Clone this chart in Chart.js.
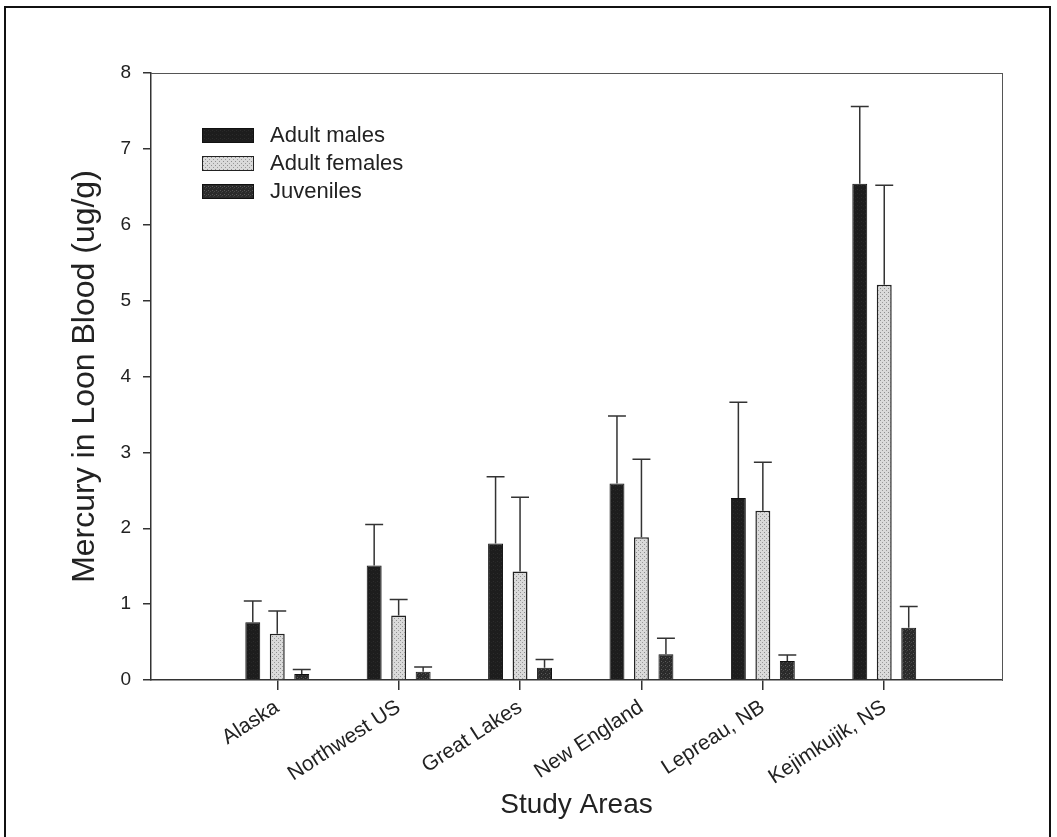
<!DOCTYPE html>
<html>
<head>
<meta charset="utf-8">
<title>Mercury in Loon Blood</title>
<script src="https://cdn.jsdelivr.net/npm/chart.js@4.4.0/dist/chart.umd.min.js"></script>
<style>
  html, body { margin: 0; padding: 0; background: #fff; }
  #wrap { position: relative; width: 1057px; height: 837px; overflow: hidden; }
  #frame { position: absolute; left: 4px; top: 6px; width: 1047px; height: 900px; border: 2px solid #111; box-sizing: border-box; }
  #chart { position: absolute; left: 0; top: 0; }
  #legend { position: absolute; left: 202px; top: 121px; font: 22px 'Liberation Sans', Arial, sans-serif; color: #222; }
  .item { display: flex; align-items: center; height: 28px; }
  .box { width: 52px; height: 15px; box-sizing: border-box; border: 1.5px solid #222; margin-right: 16px; }
</style>
</head>
<body>
<div id="wrap">
  <div id="frame"></div>
  <canvas id="chart" width="1057" height="837"></canvas>
  <div id="legend"></div>
</div>
<script>
const categories = ["Alaska", "Northwest US", "Great Lakes", "New England", "Lepreau, NB", "Kejimkujik, NS"];
const adultMales = [0.76, 1.51, 1.80, 2.59, 2.40, 6.54];
const adultMalesSD = [0.28, 0.54, 0.88, 0.89, 1.26, 1.02];
const adultFemales = [0.61, 0.85, 1.43, 1.88, 2.23, 5.21];
const adultFemalesSD = [0.30, 0.21, 0.98, 1.03, 0.64, 1.31];
const juveniles = [0.08, 0.11, 0.16, 0.34, 0.25, 0.69];
const juvenilesSD = [0.06, 0.06, 0.11, 0.21, 0.08, 0.28];
const yTicks = [0, 1, 2, 3, 4, 5, 6, 7, 8];

const FONT = "'Liberation Sans', Arial, sans-serif";
Chart.defaults.font.family = FONT;
Chart.defaults.color = "#222";

// small tiles for the stippled fills
function tile(base, dots, size) {
  const c = document.createElement("canvas");
  c.width = size; c.height = size;
  const g = c.getContext("2d");
  g.fillStyle = base;
  g.fillRect(0, 0, size, size);
  dots.forEach(d => { g.fillStyle = d[2]; g.fillRect(d[0], d[1], 1, 1); });
  return c;
}
const ctx = document.getElementById("chart").getContext("2d");
const maleTile = tile("#1d1d1d", [[1, 1, "#2c2c2c"], [3, 2, "#262626"]], 4);
const femaleTile = tile("#dadada", [[0, 0, "#8e8e8e"], [2, 2, "#9a9a9a"]], 4);
const juvTile = tile("#2a2a2a", [[1, 1, "#5a5a5a"], [3, 2, "#4a4a4a"], [2, 3, "#3c3c3c"]], 4);

const errors = [adultMalesSD, adultFemalesSD, juvenilesSD];

const errorBars = {
  id: "errorBars",
  afterDatasetsDraw(chart) {
    const c = chart.ctx;
    const y = chart.scales.y;
    chart.data.datasets.forEach((ds, di) => {
      chart.getDatasetMeta(di).data.forEach((bar, i) => {
        const top = y.getPixelForValue(ds.data[i].y + errors[di][i]);
        const half = bar.width / 2 + 1.5;
        c.save();
        c.strokeStyle = "#333";
        c.lineWidth = 1.5;
        c.beginPath();
        c.moveTo(bar.x, bar.y);
        c.lineTo(bar.x, top);
        c.moveTo(bar.x - half, top);
        c.lineTo(bar.x + half, top);
        c.stroke();
        c.restore();
      });
    });
  }
};

const toPoints = arr => arr.map((v, i) => ({ x: i + 1, y: v }));

const chart = new Chart(ctx, {
  type: "bar",
  data: {
    datasets: [
      { label: "Adult males", data: toPoints(adultMales), backgroundColor: ctx.createPattern(maleTile, "repeat"), borderColor: "#111", borderWidth: 1, tile: maleTile },
      { label: "Adult females", data: toPoints(adultFemales), backgroundColor: ctx.createPattern(femaleTile, "repeat"), borderColor: "#222", borderWidth: 1.5, tile: femaleTile },
      { label: "Juveniles", data: toPoints(juveniles), backgroundColor: ctx.createPattern(juvTile, "repeat"), borderColor: "#111", borderWidth: 1, tile: juvTile },
    ],
  },
  options: {
    responsive: false,
    animation: false,
    devicePixelRatio: 1,
    categoryPercentage: 0.605,
    barPercentage: 0.61,
    layout: { padding: { left: 60, top: 73, right: 55, bottom: 0 } },
    plugins: { legend: { display: false }, tooltip: { enabled: false } },
    scales: {
      x: {
        type: "linear",
        min: -0.04,
        max: 6.97,
        offset: false,
        afterBuildTicks: s => { s.ticks = categories.map((c, i) => ({ value: i + 1 })); },
        afterFit: s => { s.height = 157; },
        ticks: {
          autoSkip: false,
          minRotation: 33,
          maxRotation: 33,
          padding: 5,
          color: "#222",
          font: { size: 21 },
          callback: v => categories[v - 1],
        },
        grid: { drawOnChartArea: false, offset: false, tickLength: 10, color: "#333", lineWidth: 1.5 },
        border: { color: "#333", width: 1.5 },
        title: {
          display: true,
          text: "Study Areas",
          color: "#222",
          font: { size: 28 },
          padding: { top: 0, bottom: 15 },
        },
      },
      y: {
        min: 0,
        max: 8,
        afterBuildTicks: s => { s.ticks = yTicks.map(v => ({ value: v })); },
        afterFit: s => { s.width = 91; },
        ticks: { padding: 12, color: "#222", font: { size: 19 } },
        grid: { drawOnChartArea: false, tickLength: 8, color: "#333", lineWidth: 1.5 },
        border: { color: "#333", width: 1.5 },
        title: {
          display: true,
          text: "Mercury in Loon Blood (ug/g)",
          color: "#222",
          font: { size: 32 },
          padding: { top: 6, bottom: 0 },
        },
      },
      x2: {
        type: "linear",
        position: "top",
        min: 0,
        max: 1,
        ticks: { display: false },
        grid: { drawOnChartArea: false, drawTicks: false },
        border: { color: "#555", width: 1 },
      },
      y2: {
        position: "right",
        min: 0,
        max: 8,
        ticks: { display: false },
        grid: { drawOnChartArea: false, drawTicks: false },
        border: { color: "#555", width: 1 },
      },
    },
  },
  plugins: [errorBars],
});

// legend, built from the datasets
const legend = document.getElementById("legend");
chart.data.datasets.forEach(ds => {
  const item = document.createElement("div");
  item.className = "item";
  const box = document.createElement("span");
  box.className = "box";
  box.style.backgroundImage = "url(" + ds.tile.toDataURL() + ")";
  box.style.borderColor = ds.borderColor;
  const txt = document.createElement("span");
  txt.textContent = ds.label;
  item.appendChild(box);
  item.appendChild(txt);
  legend.appendChild(item);
});
</script>
</body>
</html>
